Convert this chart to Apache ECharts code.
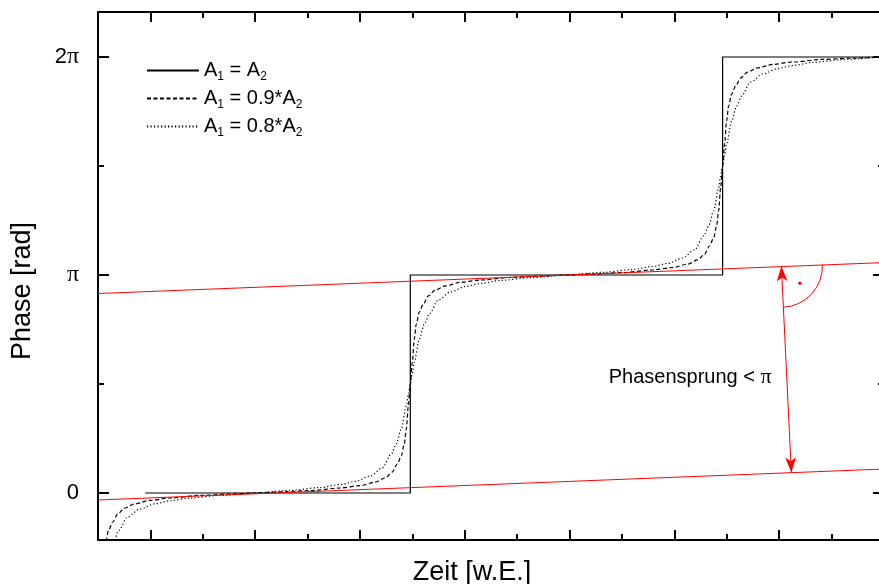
<!DOCTYPE html>
<html><head><meta charset="utf-8">
<script src="https://cdn.jsdelivr.net/npm/echarts@6/dist/echarts.min.js"></script>
<style>html,body{margin:0;padding:0;background:#fff}#c{width:879px;height:584px}</style>
</head><body><div id="c"></div>
<script>
// ---- data (x in arbitrary time units, y in units of pi) ----
const legendNames = ['A1 = A2', 'A1 = 0.9*A2', 'A1 = 0.8*A2'];
const xRange = [-0.5, 7];
const yRange = [-0.2156, 2.2064];
const xMajorTicks = [0, 1, 2, 3, 4, 5, 6, 7];
const xMinorTicks = [0.5, 1.5, 2.5, 3.5, 4.5, 5.5, 6.5];
const yMajorTicks = [0, 1, 2];
const yMinorTicks = [0.5, 1.5];
const yTickLabels = ['0', '{p|π}', '2{p|π}'];

const solidEqual = [[-0.05,0],[2.48,0],[2.48,1],[5.46,1],[5.46,2],[6.95,2]];
const dashed09 = [[-0.465,-0.399],[-0.446,-0.294],[-0.427,-0.225],[-0.398,-0.170],[-0.360,-0.133],[-0.312,-0.096],[-0.245,-0.069],[-0.150,-0.050],[-0.007,-0.034],[0.184,-0.023],[0.470,-0.011],[0.756,-0.005],[1.0,0],
[1.240,0.005],[1.526,0.011],[1.812,0.023],[2.003,0.034],[2.146,0.050],[2.241,0.069],[2.308,0.096],[2.356,0.133],[2.394,0.170],[2.423,0.225],[2.442,0.294],[2.461,0.399],[2.48,0.5],
[2.499,0.601],[2.518,0.706],[2.537,0.775],[2.566,0.830],[2.604,0.867],[2.652,0.904],[2.719,0.931],[2.814,0.950],[2.957,0.966],[3.148,0.977],[3.434,0.989],[3.720,0.995],[3.97,1.0],
[4.220,1.005],[4.506,1.011],[4.792,1.023],[4.983,1.034],[5.126,1.050],[5.221,1.069],[5.288,1.096],[5.336,1.133],[5.374,1.170],[5.403,1.225],[5.422,1.294],[5.441,1.399],[5.46,1.5],
[5.479,1.601],[5.498,1.706],[5.517,1.775],[5.546,1.830],[5.584,1.867],[5.632,1.904],[5.699,1.931],[5.794,1.950],[5.937,1.966],[6.128,1.977],[6.414,1.989],[6.700,1.995],[6.95,1.999]];
const dotted08 = [[-0.446,-0.399],[-0.398,-0.294],[-0.350,-0.225],[-0.303,-0.172],[-0.217,-0.110],[-0.102,-0.074],[0.041,-0.050],[0.184,-0.036],[0.375,-0.023],[0.661,-0.011],[1.0,0],
[1.335,0.012],[1.621,0.025],[1.812,0.039],[1.955,0.053],[2.098,0.078],[2.213,0.115],[2.299,0.179],[2.346,0.225],[2.394,0.294],[2.442,0.399],[2.461,0.45],[2.48,0.5],
[2.499,0.55],[2.518,0.601],[2.566,0.706],[2.614,0.775],[2.661,0.821],[2.747,0.885],[2.862,0.922],[3.005,0.947],[3.148,0.961],[3.339,0.975],[3.625,0.988],[3.97,1.0],
[4.315,1.012],[4.601,1.025],[4.792,1.039],[4.935,1.053],[5.078,1.078],[5.193,1.115],[5.279,1.179],[5.326,1.225],[5.374,1.294],[5.422,1.399],[5.441,1.45],[5.46,1.5],
[5.479,1.55],[5.498,1.601],[5.546,1.706],[5.594,1.775],[5.641,1.821],[5.727,1.885],[5.842,1.922],[5.985,1.947],[6.128,1.961],[6.319,1.975],[6.605,1.988],[6.95,2.0]];
const fitLower = [[-0.5,-0.032],[7,0.110]];
const fitUpper = [[-0.5,0.915],[7,1.057]];
const arrowTop = [6.021, 1.040];
const arrowBottom = [6.116, 0.094];
const annotationPos = [4.373, 0.532];
const annotationText = 'Phasensprung < {p|π}';

// ---- chart ----
const FONT = 'Liberation Sans';
function xAx(pos, ticks, len, line, extra) {
  return Object.assign({
    type: 'value', position: pos, min: xRange[0], max: xRange[1], gridIndex: 0,
    axisLine: {show: line, onZero: false, lineStyle: {color: '#000', width: 2}},
    axisTick: {show: true, inside: true, length: len, customValues: ticks, lineStyle: {color: '#000', width: 2}},
    axisLabel: {show: false}, splitLine: {show: false}
  }, extra || {});
}
function yAx(pos, ticks, len, line, extra) {
  return Object.assign({
    type: 'value', position: pos, min: yRange[0], max: yRange[1], gridIndex: 0,
    axisLine: {show: line, onZero: false, lineStyle: {color: '#000', width: 2}},
    axisTick: {show: true, inside: true, length: len, customValues: ticks, lineStyle: {color: '#000', width: 2}},
    axisLabel: {show: false}, splitLine: {show: false}
  }, extra || {});
}
const chart = echarts.init(document.getElementById('c'), null, {renderer: 'canvas'});
const subRich = {s: {fontSize: 12, lineHeight: 12, verticalAlign: 'bottom', fontFamily: FONT, color: '#000'}};
chart.setOption({
  animation: false,
  backgroundColor: '#fff',
  textStyle: {fontFamily: FONT},
  grid: {left: 98, top: 12, width: 786, height: 528, containLabel: false, outerBoundsMode: 'none'},
  legend: {
    data: legendNames, orient: 'vertical', left: 146, top: 58, padding: 0,
    itemWidth: 52, itemHeight: 14, itemGap: 3, selectedMode: false,
    itemStyle: {opacity: 0},
    textStyle: {fontSize: 20, lineHeight: 25, color: '#000', fontFamily: FONT, rich: subRich},
    formatter: function (n) { return n.replace(/A1/, 'A{s|1}').replace(/A2/, 'A{s|2}'); }
  },
  xAxis: [
    xAx('bottom', xMajorTicks, 10, true, {name: 'Zeit [w.E.]', nameLocation: 'middle', nameGap: 19,
      nameTextStyle: {fontSize: 27, color: '#000', fontFamily: FONT, padding: [0, 38, 0, 0]}}),
    xAx('bottom', xMinorTicks, 6, false),
    xAx('top', xMajorTicks, 10, true),
    xAx('top', xMinorTicks, 6, false)
  ],
  yAxis: [
    yAx('left', yMajorTicks, 11, true, {
      name: 'Phase [rad]', nameLocation: 'middle', nameGap: 62,
      nameTextStyle: {fontSize: 27, color: '#000', fontFamily: FONT, padding: [0, 30, 0, 0]},
      axisLabel: {show: true, customValues: yMajorTicks, margin: 19, fontSize: 22, color: '#000', fontFamily: FONT,
        formatter: function (v) { return yTickLabels[yMajorTicks.indexOf(v)]; },
        rich: {p: {fontFamily: 'Liberation Serif', fontSize: 24, color: '#000'}}}
    }),
    yAx('left', yMinorTicks, 6, false),
    yAx('right', yMajorTicks, 11, true),
    yAx('right', yMinorTicks, 6, false)
  ],
  series: [
    {name: legendNames[0], type: 'line', data: solidEqual, symbol: 'none', lineStyle: {color: '#000', width: 1.2}, itemStyle: {color: '#000'}},
    {name: legendNames[1], type: 'line', data: dashed09, symbol: 'none', smooth: 0.3, smoothMonotone: 'x', lineStyle: {color: '#000', width: 1.2, type: [4, 2.5]}, itemStyle: {color: '#000'}},
    {name: legendNames[2], type: 'line', data: dotted08, symbol: 'none', smooth: 0.3, smoothMonotone: 'x', lineStyle: {color: '#000', width: 1.2, type: [1.2, 2.3]}, itemStyle: {color: '#000'}},
    {name: 'fitLower', type: 'line', data: fitLower, symbol: 'none', lineStyle: {color: '#ff0000', width: 1}, silent: true},
    {name: 'fitUpper', type: 'line', data: fitUpper, symbol: 'none', lineStyle: {color: '#ff0000', width: 1}, silent: true,
      markLine: {silent: true, symbol: ['arrow', 'arrow'], symbolSize: [8, 15], label: {show: false},
        lineStyle: {color: '#ff0000', width: 1, type: 'solid'},
        data: [[{coord: arrowTop}, {coord: arrowBottom}]]}},
    {name: 'annot', type: 'custom', data: [arrowTop], silent: true,
      renderItem: function (params, api) {
        const c = api.coord(arrowTop), b = api.coord(arrowBottom);
        const u0 = api.coord(fitUpper[0]), u1 = api.coord(fitUpper[1]);
        const a1 = Math.atan2(u1[1] - u0[1], u1[0] - u0[0]);
        const a2 = Math.atan2(b[1] - c[1], b[0] - c[0]);
        const mid = (a1 + a2) / 2;
        const t = api.coord(annotationPos);
        return {type: 'group', children: [
          {type: 'arc', shape: {cx: c[0], cy: c[1], r: 41, startAngle: a1, endAngle: a2, clockwise: true},
            style: {stroke: '#ff0000', fill: 'none', lineWidth: 1}},
          {type: 'circle', shape: {cx: c[0] + 25 * Math.cos(mid), cy: c[1] + 25 * Math.sin(mid), r: 1.6},
            style: {fill: '#ff0000'}},
          {type: 'text', x: t[0], y: t[1], style: {text: annotationText, fontSize: 20, fontFamily: FONT, fill: '#000',
            align: 'left', verticalAlign: 'middle',
            rich: {p: {fontFamily: 'Liberation Serif', fontSize: 22, fill: '#000'}}}}
        ]};
      }}
  ]
});
</script></body></html>
